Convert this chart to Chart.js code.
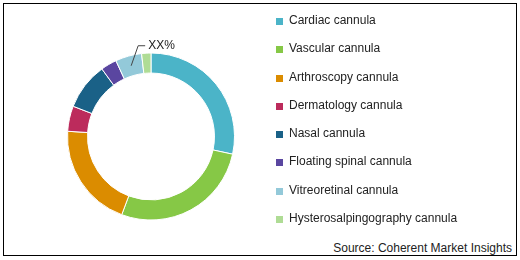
<!DOCTYPE html>
<html>
<head>
<meta charset="utf-8">
<script src="https://cdn.jsdelivr.net/npm/chart.js@4.4.1/dist/chart.umd.min.js"></script>
<style>
  body { margin: 0; background: #fff; }
  #wrap { position: relative; width: 520px; height: 260px; font-family: "Liberation Sans", Arial, sans-serif; }
  #frame { position: absolute; left: 3px; top: 3px; width: 512px; height: 251px; border: 1px solid #000; }
  #chartBox { position: absolute; left: 0; top: 0; width: 302px; height: 260px; }
  #legend { position: absolute; left: 276px; top: 13px; font-size: 12px; color: #222; }
  .item { height: 28.25px; display: flex; align-items: flex-start; }
  .sw { width: 7px; height: 7px; margin-top: 5px; margin-right: 6px; }
  #source { position: absolute; right: 8px; top: 241px; font-size: 12px; color: #222; }
</style>
</head>
<body>
<div id="wrap">
  <div id="frame"></div>
  <div id="chartBox"><canvas id="donut" width="302" height="260"></canvas></div>
  <div id="legend"></div>
  <div id="source">Source: Coherent Market Insights</div>
</div>
<script>
const categories = [
  "Cardiac cannula",
  "Vascular cannula",
  "Arthroscopy cannula",
  "Dermatology cannula",
  "Nasal cannula",
  "Floating spinal cannula",
  "Vitreoretinal cannula",
  "Hysterosalpingography cannula",
];
const shares = [28.4, 27.3, 20.3, 4.9, 9.1, 3.1, 5.1, 1.8];
const colors = ["#4bb4c8", "#86c846", "#db8c00", "#bc2b5c", "#1a6187", "#5a46a0", "#93c9d9", "#afdc95"];
const calloutIndex = 6;
const calloutText = "XX%";

// callout with leader line on one slice
const callout = {
  id: "callout",
  afterDatasetsDraw(chart) {
    const arc = chart.getDatasetMeta(0).data[calloutIndex];
    if (!arc) return;
    const p = arc.getProps(["x", "y", "startAngle", "endAngle", "innerRadius", "outerRadius"]);
    const mid = (p.startAngle + p.endAngle) / 2;
    const r = (p.innerRadius + p.outerRadius) / 2;
    const x0 = p.x + Math.cos(mid) * r;
    const y0 = p.y + Math.sin(mid) * r;
    const x1 = x0 + 7;
    const y1 = y0 - 20;
    const ctx = chart.ctx;
    ctx.save();
    ctx.strokeStyle = "#444";
    ctx.lineWidth = 1;
    ctx.beginPath();
    ctx.moveTo(x0, y0);
    ctx.lineTo(x1, y1);
    ctx.lineTo(x1 + 7, y1);
    ctx.stroke();
    ctx.fillStyle = "#222";
    ctx.font = '12px "Liberation Sans", Arial, sans-serif';
    ctx.textBaseline = "middle";
    ctx.fillText(calloutText, x1 + 10, y1);
    ctx.restore();
  },
};

new Chart(document.getElementById("donut"), {
  type: "doughnut",
  data: {
    labels: categories,
    datasets: [
      {
        data: shares,
        backgroundColor: colors,
        borderColor: "#fff",
        borderWidth: 1,
      },
    ],
  },
  options: {
    responsive: false,
    animation: false,
    cutout: "76%",
    layout: { padding: { left: 67, right: 67, top: 52, bottom: 39 } },
    plugins: { legend: { display: false }, tooltip: { enabled: false } },
  },
  plugins: [callout],
});

const legend = document.getElementById("legend");
categories.forEach((name, i) => {
  const row = document.createElement("div");
  row.className = "item";
  row.innerHTML = `<span class="sw" style="background:${colors[i]}"></span><span>${name}</span>`;
  legend.appendChild(row);
});
</script>
</body>
</html>
